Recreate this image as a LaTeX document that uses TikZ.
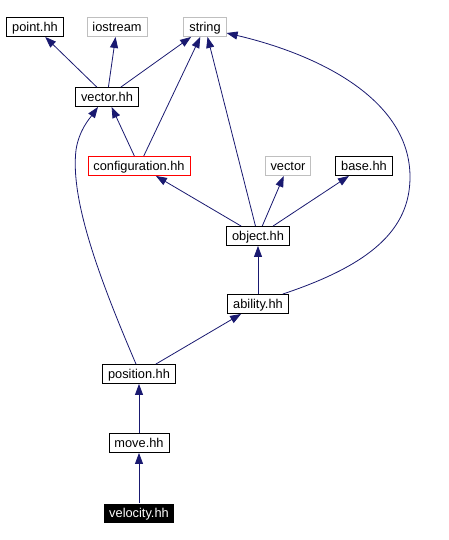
\documentclass[tikz,border=0pt]{standalone}
\usepackage{fontspec}
\setmainfont{Liberation Sans}
\usetikzlibrary{arrows.meta}
\definecolor{edgeblue}{RGB}{25,25,112}
\definecolor{extgray}{RGB}{191,191,191}

\begin{document}
\begin{tikzpicture}[x=1pt,y=-1pt,
    every node/.style={font=\fontsize{12.8}{14}\selectfont,inner xsep=5.5pt,inner ysep=0pt,
      minimum height=19pt,text height=11pt,text depth=2pt,line width=0.9pt},
    hfile/.style={draw=black},
    extfile/.style={draw=extgray},
    curfile/.style={draw=red},
    rootfile/.style={fill=black,text=white},
    edge/.style={draw=edgeblue,line width=0.8pt,-{Triangle[length=11pt,width=8pt]}}]
  \useasboundingbox (0,0) rectangle (448,540);
  % top row
  \node[hfile] (point) at (35,27) {point.hh};
  \node[extfile] (iostr) at (117,27) {iostream};
  \node[extfile] (str) at (205,27) {string};
  \node[hfile] (vec) at (107,97) {vector.hh};
  % middle
  \node[curfile] (conf) at (139,166) {configuration.hh};
  \node[extfile] (stdvec) at (288,166) {vector};
  \node[hfile] (base) at (364,166) {base.hh};
  \node[hfile] (obj) at (258,236) {object.hh};
  \node[hfile] (abil) at (258,304) {ability.hh};
  % bottom
  \node[hfile] (pos) at (139,374) {position.hh};
  \node[hfile] (move) at (139,443) {move.hh};
  \node[rootfile] (velo) at (139,513) {velocity.hh};

  \draw[edge] (vec) -- (point);
  \draw[edge] (vec) -- (iostr);
  \draw[edge] (vec) -- (str);
  \draw[edge] (conf) -- (vec);
  \draw[edge] (conf) -- (str);
  \draw[edge] (obj) -- (conf);
  \draw[edge] (obj) -- (str);
  \draw[edge] (obj) -- (stdvec);
  \draw[edge] (obj) -- (base);
  \draw[edge] (abil) -- (obj);
  \draw[edge] ([xshift=-6pt]abil.north east) .. controls (370,265) and (410,230) .. (410,177)
    .. controls (410,100) and (320,55) .. ([yshift=-6pt]str.east);
  \draw[edge] (pos) -- (abil);
  \draw[edge] ([xshift=-3pt]pos.north) .. controls (100,280) and (70,200) .. (76,150)
    .. controls (79,130) and (90,118) .. ([xshift=-9pt]vec.south);
  \draw[edge] (move) -- (pos);
  \draw[edge] (velo) -- (move);
\end{tikzpicture}
\end{document}
